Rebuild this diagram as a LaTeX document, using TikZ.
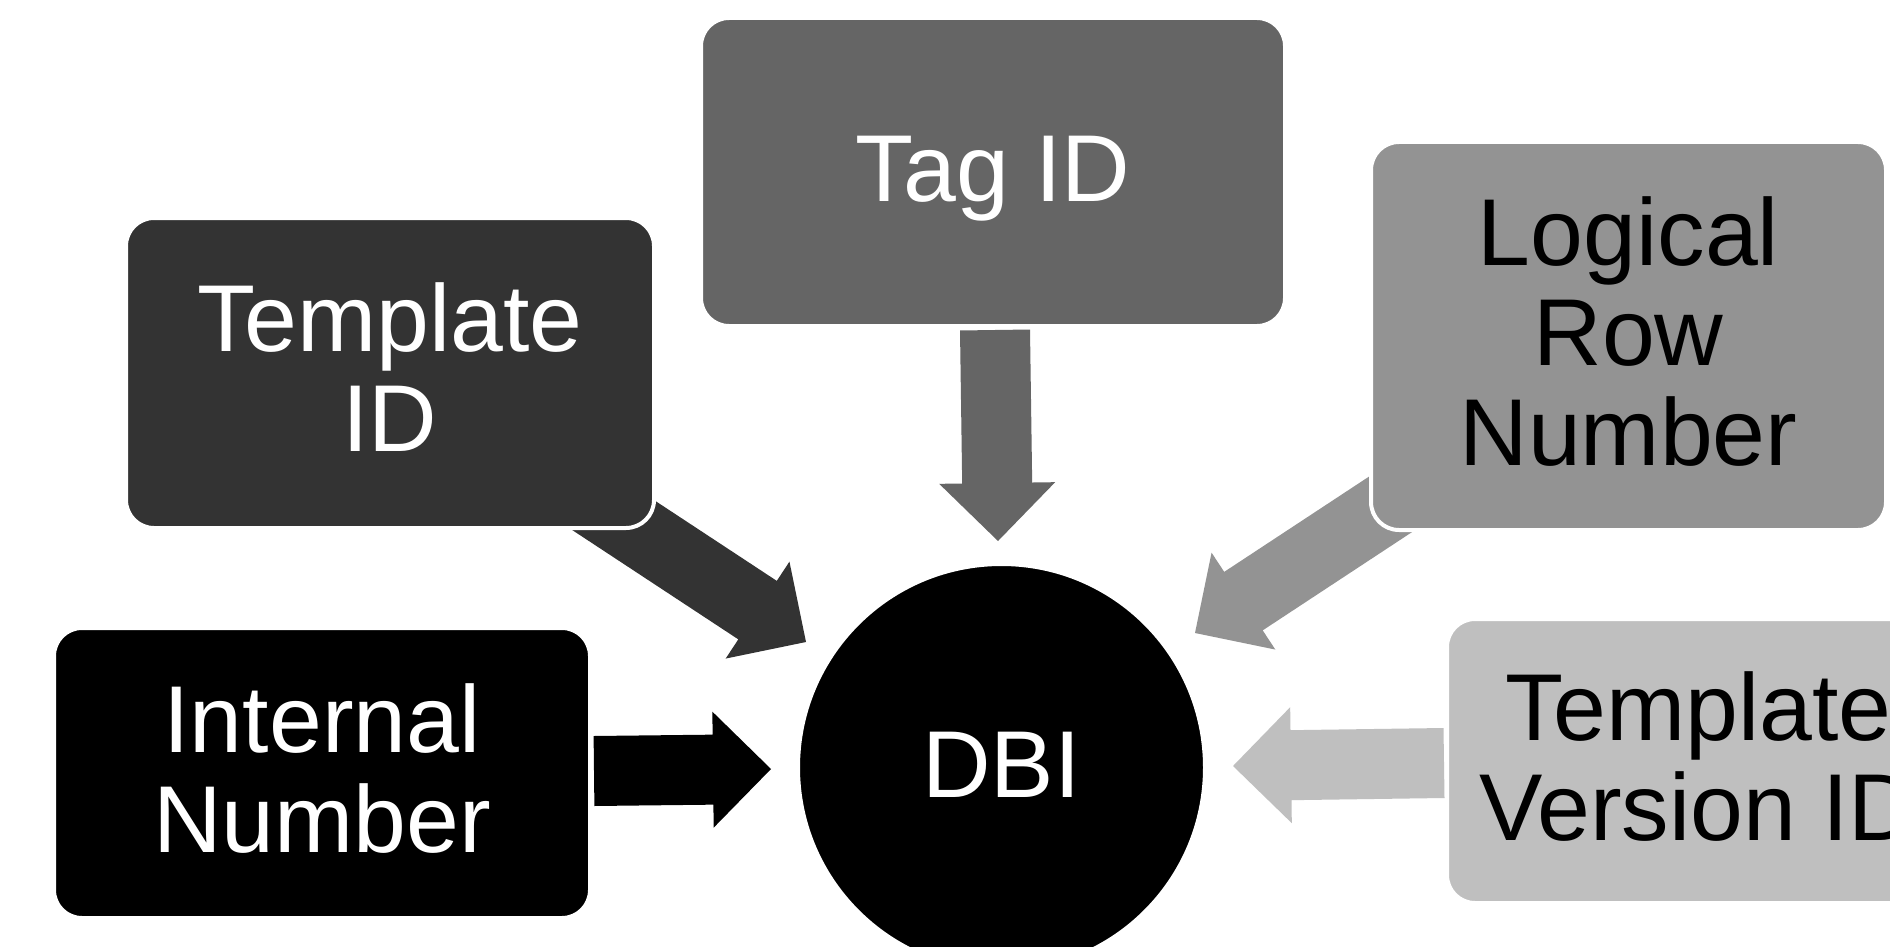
\documentclass[tikz,border=0pt]{standalone}
\usepackage{fontspec}
\setmainfont{Liberation Sans}
\usetikzlibrary{calc}
\definecolor{cInt}{HTML}{000000}
\definecolor{cTpl}{HTML}{333333}
\definecolor{cTag}{HTML}{656565}
\definecolor{cLog}{HTML}{939393}
\definecolor{cVer}{HTML}{BFBFBF}
\newcommand\blockarrow[3]{%
  \coordinate (bah) at ($(#3)!58pt!(#2)$);
  \fill[#1] ($(#2)!35pt!90:(#3)$) -- ($(bah)!35pt!90:(#3)$) -- ($(bah)!58pt!90:(#3)$) -- (#3)
    -- ($(bah)!58pt!-90:(#3)$) -- ($(bah)!35pt!-90:(#3)$) -- ($(#2)!35pt!-90:(#3)$) -- cycle;}
\tikzset{
  box/.style={rectangle, rounded corners=28pt, draw=white, line width=4pt, inner sep=0pt},
  txt/.style={align=center, inner sep=0pt, font=\fontsize{95}{100}\selectfont},
  hub/.style={circle, fill=black, draw=white, line width=4pt, inner sep=0pt,
    minimum size=407pt}
}
\begin{document}
\begin{tikzpicture}[x=1pt,y=-1pt]
\useasboundingbox (0,0) rectangle (1890,947);
\clip (0,0) rectangle (1890,947);
\fill[white] (0,0) rectangle (1890,947);
% arrow end points
\coordinate (t1) at (594,771); \coordinate (h1) at (771,769);
\coordinate (t2) at (572,488); \coordinate (h2) at (806,642);
\coordinate (t3) at (995,330); \coordinate (h3) at (998,541);
\coordinate (t4) at (1429,479); \coordinate (h4) at (1195,633);
\coordinate (t5) at (1444,763); \coordinate (h5) at (1233,766);
\blockarrow{cInt}{t1}{h1}
\blockarrow{cTpl}{t2}{h2}
\blockarrow{cTag}{t3}{h3}
\blockarrow{cLog}{t4}{h4}
\blockarrow{cVer}{t5}{h5}
% boxes
\node[box, fill=cTag, minimum width=584pt, minimum height=308pt,
  label={[txt, text=white, yshift=-7pt]center:{Tag ID}}] (tag) at (993,172) {};
\node[box, fill=cTpl, minimum width=528pt, minimum height=310pt,
  label={[txt, text=white, yshift=6pt]center:{Template\\ID}}] (tpl) at (390,373) {};
\node[box, fill=cLog, minimum width=515pt, minimum height=388pt,
  label={[txt, text=black, yshift=4pt]center:{Logical\\Row\\Number}}] (log) at (1628.5,336) {};
\node[box, fill=cInt, minimum width=536pt, minimum height=290pt,
  label={[txt, text=white, yshift=4pt]center:{Internal\\Number}}] (int) at (322,773) {};
\node[box, fill=cVer, minimum width=503pt, minimum height=284pt,
  label={[txt, text=black, yshift=4pt]center:{Template\\Version ID}}] (ver) at (1698.5,761) {};
\node[hub, label={[txt, text=white, yshift=3pt]center:{DBI}}] (dbi) at (1001.5,767.5) {};
\end{tikzpicture}
\end{document}
